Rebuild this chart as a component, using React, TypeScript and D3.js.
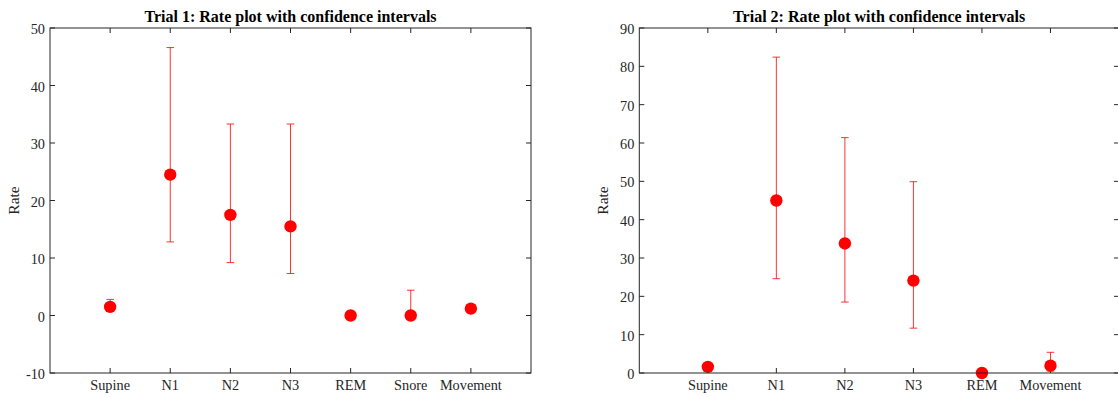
import React from "react";
import * as d3 from "d3";

const categories1 = ["Supine", "N1", "N2", "N3", "REM", "Snore", "Movement"];
const rates1 = [1.5, 24.5, 17.5, 15.5, 0, 0, 1.2];
const lower1 = [0.8, 12.8, 9.2, 7.3, 0, 0, 1.2];
const upper1 = [2.8, 46.6, 33.3, 33.3, 0, 4.4, 1.2];
const yTicks1 = [-10, 0, 10, 20, 30, 40, 50];

const categories2 = ["Supine", "N1", "N2", "N3", "REM", "Movement"];
const rates2 = [1.6, 45.0, 33.8, 24.1, 0, 1.9];
const lower2 = [1.2, 24.6, 18.5, 11.7, 0, 0.5];
const upper2 = [2.0, 82.4, 61.4, 49.9, 0, 5.4];
const yTicks2 = [0, 10, 20, 30, 40, 50, 60, 70, 80, 90];

const titles = ["Trial 1: Rate plot with confidence intervals", "Trial 2: Rate plot with confidence intervals"];

const FONT = "Liberation Serif";
const AX = "#262626";

type PanelProps = {
  left: number;
  right: number;
  top: number;
  bottom: number;
  cats: string[];
  rates: number[];
  lo: number[];
  hi: number[];
  yTicks: number[];
  title: string;
};

function Panel({ left, right, top, bottom, cats, rates, lo, hi, yTicks, title }: PanelProps) {
  const x = d3.scaleLinear().domain([0, cats.length + 1]).range([left, right]);
  const y = d3
    .scaleLinear()
    .domain([yTicks[0], yTicks[yTicks.length - 1]])
    .range([bottom, top]);
  const tl = 5;
  const cap = 3.8;
  return (
    <g>
      <text
        x={(left + right) / 2}
        y={22}
        textAnchor="middle"
        style={{ fontFamily: FONT, fontWeight: "bold", fontSize: "16px" }}
        fill="#000"
      >
        {title}
      </text>
      <text
        transform={`translate(${left - 31.5},${(top + bottom) / 2}) rotate(-90)`}
        textAnchor="middle"
        style={{ fontFamily: FONT, fontSize: "15.5px" }}
        fill={AX}
      >
        Rate
      </text>
      {cats.map((c, i) => (
        <g key={c}>
          <line x1={x(i + 1)} x2={x(i + 1)} y1={bottom} y2={bottom - tl} stroke={AX} strokeWidth={1} />
          <line x1={x(i + 1)} x2={x(i + 1)} y1={top} y2={top + tl} stroke={AX} strokeWidth={1} />
          <text x={x(i + 1)} y={bottom + 17} textAnchor="middle" style={{ fontFamily: FONT, fontSize: "14.3px" }} fill={AX}>
            {c}
          </text>
        </g>
      ))}
      {yTicks.map((t) => (
        <g key={t}>
          <line x1={left} x2={left + tl} y1={y(t)} y2={y(t)} stroke={AX} strokeWidth={1} />
          <line x1={right} x2={right - tl} y1={y(t)} y2={y(t)} stroke={AX} strokeWidth={1} />
          <text x={left - 5} y={y(t) + 6} textAnchor="end" style={{ fontFamily: FONT, fontSize: "14.3px" }} fill={AX}>
            {t}
          </text>
        </g>
      ))}
      {rates.map((r, i) => (
        <g key={"e" + i} stroke="#ff0000" strokeWidth={1} strokeOpacity={0.8}>
          <line x1={x(i + 1)} x2={x(i + 1)} y1={y(lo[i])} y2={y(hi[i])} />
          <line x1={x(i + 1) - cap} x2={x(i + 1) + cap} y1={y(lo[i])} y2={y(lo[i])} />
          <line x1={x(i + 1) - cap} x2={x(i + 1) + cap} y1={y(hi[i])} y2={y(hi[i])} />
        </g>
      ))}
      {rates.map((r, i) => (
        <circle key={"m" + i} cx={x(i + 1)} cy={y(r)} r={6.2} fill="#ff0000" />
      ))}
      <rect x={left} y={top} width={right - left} height={bottom - top} fill="none" stroke={AX} strokeWidth={1} />
    </g>
  );
}

export default function App() {
  return (
    <svg
      width={1118}
      height={397}
      style={{ position: "absolute", left: 0, top: 0, background: "#fff", fontFamily: FONT }}
    >
      <rect x={0} y={0} width={1118} height={397} fill="#fff" />
      <Panel
        left={50}
        right={531}
        top={28}
        bottom={373}
        cats={categories1}
        rates={rates1}
        lo={lower1}
        hi={upper1}
        yTicks={yTicks1}
        title={titles[0]}
      />
      <Panel
        left={639.3}
        right={1119}
        top={28}
        bottom={373}
        cats={categories2}
        rates={rates2}
        lo={lower2}
        hi={upper2}
        yTicks={yTicks2}
        title={titles[1]}
      />
    </svg>
  );
}
